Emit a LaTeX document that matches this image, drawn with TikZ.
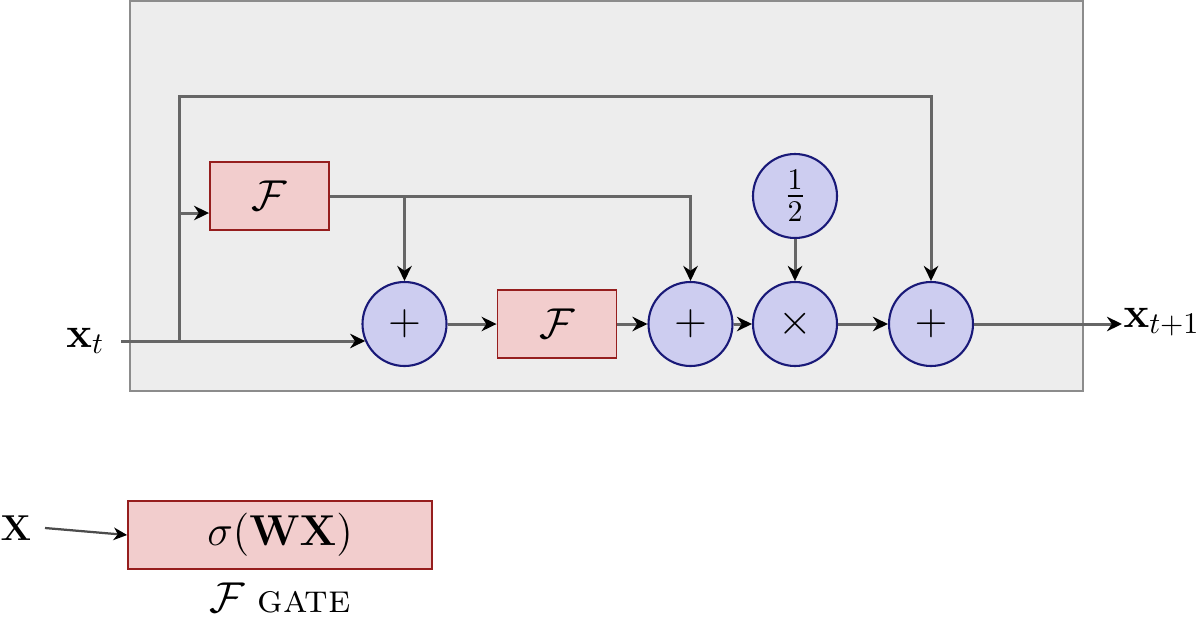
\documentclass[tikz,border=0pt]{standalone}
\usepackage{amsmath,amssymb}
\usetikzlibrary{arrows.meta,calc}
\definecolor{fpink}{RGB}{242,205,205}
\definecolor{fred}{RGB}{150,30,30}
\definecolor{oblue}{RGB}{205,205,240}
\definecolor{onavy}{RGB}{25,25,120}
\begin{document}
\begin{tikzpicture}[x=0.33333pt,y=-0.33333pt,
  tip/.style={-{Stealth[length=5pt,width=4.8pt,inset=1.6pt,color=black]}},
  conn/.style={draw=black!60, line width=1pt, tip},
  fbox/.style={draw=fred, fill=fpink, line width=0.6pt,
    minimum width=39.7pt, minimum height=22.7pt, inner sep=0pt, font=\Large},
  op/.style={circle, draw=onavy, fill=oblue, line width=0.7pt,
    minimum size=28pt, inner sep=0pt, font=\Large},
  lbl/.style={inner sep=0pt, font=\Large}]
\path[use as bounding box] (0,0) rectangle (1196,619);
\draw[fill=black!7, draw=black!45, line width=0.6pt] (130,1) rectangle (1083,391);

% nodes
\node[lbl, anchor=base east] (xt) at (105,347) {$\mathbf{x}_t$};
\coordinate (in) at (121,341);
\coordinate (split) at (179,341);
\coordinate (top) at (179,96);
\coordinate (fin) at (179,213);
\node[fbox] (F1) at (269.5,196) {$\mathcal{F}$};
\node[op] (p1) at (404.5,324) {$+$};
\node[fbox] (F2) at (557,324) {$\mathcal{F}$};
\node[op] (p2) at (690.5,324) {$+$};
\node[op] (m) at (795,324) {$\times$};
\node[op] (h) at (795,196) {$\frac{1}{2}$};
\node[op] (p3) at (931,324) {$+$};
\coordinate (out) at (1122,324);
\node[lbl, anchor=base west] (xo) at (1123,327) {$\mathbf{x}_{t+1}$};

% connectors
\draw[conn] (in) -- (in -| p1.204);
\draw[conn] (split) -- (top) -- (top -| p3) -- (p3.north);
\draw[conn] (fin) -- (fin -| F1.west);
\draw[conn] (F1.east) -- (F1.east -| p2) -- (p2.north);
\draw[conn] (F1.east -| p1) -- (p1.north);
\draw[conn] (p1) -- (F2);
\draw[conn] (F2) -- (p2);
\draw[conn] (p2) -- (m);
\draw[conn] (m) -- (p3);
\draw[conn] (h) -- (m);
\draw[conn] (p3) -- (out);

% gate legend
\node[fbox, minimum width=101.3pt, font=\Large] (g) at (280,535) {$\sigma(\mathbf{WX})$};
\node[lbl, anchor=base, font=\fontsize{13.3}{16}\selectfont] (gl) at (280,612) {$\mathcal{F}$ \textsc{gate}};
\node[lbl, anchor=base west, font=\large] (X) at (0,540) {$\mathbf{X}$};
\coordinate (xs) at (45,528);
\draw[draw=black!70, line width=0.75pt, -{Stealth[length=4.5pt,width=4.2pt,inset=1.4pt,color=black]}] (xs) -- (g.west);
\end{tikzpicture}
\end{document}
